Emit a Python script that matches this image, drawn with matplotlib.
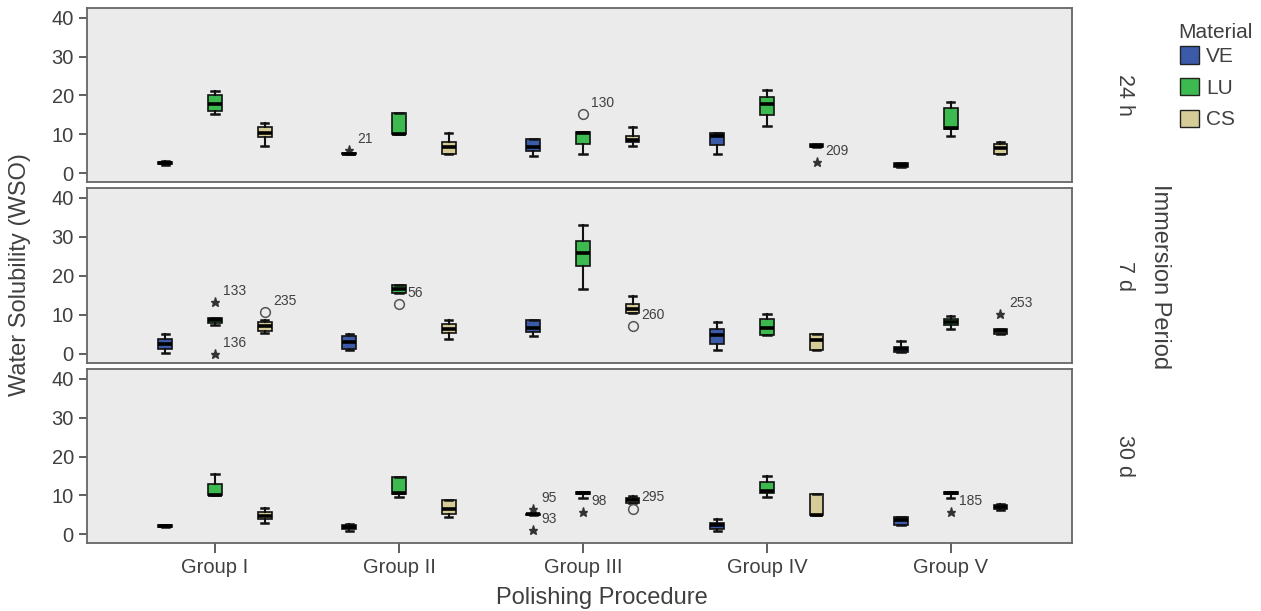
import numpy as np
import matplotlib.pyplot as plt
from matplotlib.patches import Patch

plt.rcParams['font.family'] = ['Liberation Sans', 'DejaVu Sans']

groups = ['Group I', 'Group II', 'Group III', 'Group IV', 'Group V']
materials = ['VE', 'LU', 'CS']
periods = ['24 h', '7 d', '30 d']
colors = ['#3b5ba9', '#3dba4f', '#d6cc98']

# each row: whisker low, q1, median, q3, whisker high (one row per group)
ve_24h = [[2.2, 2.3, 2.6, 2.9, 3.0], [4.8, 4.8, 5.0, 5.3, 5.3], [4.5, 5.6, 6.8, 8.7, 8.7],
          [5.0, 7.3, 9.5, 10.3, 10.3], [1.5, 1.5, 2.0, 2.7, 2.7]]
lu_24h = [[15.2, 16.1, 17.9, 20.1, 21.1], [10.0, 10.0, 10.1, 15.4, 15.4], [5.0, 7.5, 10.2, 10.5, 10.5],
          [12.1, 15.0, 17.8, 19.7, 21.4], [9.6, 11.3, 11.5, 16.7, 18.4]]
cs_24h = [[7.0, 9.2, 10.4, 11.8, 12.8], [5.0, 5.0, 6.8, 8.1, 10.3], [7.0, 7.9, 8.5, 9.6, 11.8],
          [6.6, 6.8, 7.1, 7.5, 7.5], [5.0, 5.0, 6.4, 7.5, 7.9]]

ve_7d = [[0.3, 1.4, 2.6, 3.9, 5.2], [0.9, 1.4, 3.0, 4.6, 5.2], [4.6, 5.6, 6.6, 8.6, 8.6],
         [0.9, 2.6, 4.9, 6.5, 8.3], [0.5, 0.5, 1.2, 1.8, 3.2]]
lu_7d = [[7.5, 8.0, 8.6, 9.2, 9.2], [15.7, 15.7, 16.7, 17.7, 17.7], [16.7, 22.5, 26.0, 29.0, 33.0],
         [4.9, 4.9, 6.6, 9.0, 10.3], [6.5, 7.5, 8.2, 8.9, 9.7]]
cs_7d = [[5.4, 6.0, 7.1, 8.2, 8.6], [3.9, 5.4, 6.5, 7.7, 8.6], [10.6, 10.6, 11.6, 12.9, 14.8],
         [0.9, 0.9, 3.5, 5.2, 5.2], [5.0, 5.0, 5.8, 6.3, 6.3]]

ve_30d = [[1.8, 1.8, 2.1, 2.5, 2.5], [0.9, 1.3, 1.8, 2.3, 2.7], [4.9, 4.9, 5.1, 5.3, 5.3],
          [0.9, 1.3, 2.3, 3.0, 3.8], [2.3, 2.5, 3.6, 4.4, 4.4]]
lu_30d = [[10.0, 10.0, 10.1, 13.0, 15.4], [9.5, 10.4, 10.7, 14.8, 14.8], [9.3, 10.3, 10.5, 10.8, 10.8],
          [9.7, 10.7, 11.0, 13.4, 14.9], [9.3, 10.3, 10.5, 10.8, 10.8]]
cs_30d = [[3.0, 3.8, 4.7, 5.7, 6.7], [4.4, 5.3, 6.4, 8.7, 8.7], [8.1, 8.1, 8.7, 9.3, 9.8],
          [4.9, 4.9, 5.0, 10.4, 10.4], [6.2, 6.4, 6.9, 7.4, 7.8]]

box_data = [[ve_24h, lu_24h, cs_24h], [ve_7d, lu_7d, cs_7d], [ve_30d, lu_30d, cs_30d]]

# outliers: (group index, material index, value, kind, case label)
out_24h = [(1, 0, 6.0, 'star', '21'), (2, 1, 15.2, 'circle', '130'), (3, 2, 2.8, 'star', '209')]
out_7d = [(0, 1, 13.3, 'star', '133'), (0, 1, 0.0, 'star', '136'), (0, 2, 10.7, 'circle', '235'),
          (1, 1, 12.7, 'circle', '56'), (2, 2, 7.1, 'circle', '260'), (4, 2, 10.3, 'star', '253')]
out_30d = [(2, 0, 6.4, 'star', '95'), (2, 0, 1.0, 'star', '93'), (2, 1, 5.7, 'star', '98'),
           (2, 2, 6.6, 'circle', '295'), (4, 1, 5.7, 'star', '185')]
outliers = [out_24h, out_7d, out_30d]

offsets = [-0.27, 0.0, 0.27]
text_col = '#404040'

fig = plt.figure(figsize=(12.61, 6.11), dpi=100)
axes_rects = [[0.069, 0.702, 0.781, 0.285],
              [0.069, 0.406, 0.781, 0.286],
              [0.069, 0.111, 0.781, 0.285]]

for p, rect in enumerate(axes_rects):
    ax = fig.add_axes(rect)
    ax.set_facecolor('#ebebeb')
    x = np.arange(len(groups))
    for m in range(3):
        stats = []
        for row in box_data[p][m]:
            stats.append(dict(whislo=row[0], q1=row[1], med=row[2], q3=row[3], whishi=row[4], fliers=[]))
        ax.bxp(stats, positions=x + offsets[m], widths=0.075, capwidths=0.04,
               patch_artist=True, showfliers=False, manage_ticks=False,
               boxprops=dict(facecolor=colors[m], edgecolor='#111111', linewidth=1.2),
               medianprops=dict(color='black', linewidth=2.6),
               whiskerprops=dict(color='#111111', linewidth=1.5),
               capprops=dict(color='#111111', linewidth=1.8))
    for g, m, val, kind, lab in outliers[p]:
        xp = g + offsets[m]
        if kind == 'star':
            ax.plot(xp, val, marker='*', color='#333333', markersize=6.5, linestyle='none')
        else:
            ax.plot(xp, val, marker='o', markerfacecolor='none', markeredgecolor='#555555',
                    markersize=7, markeredgewidth=1.1, linestyle='none')
        ax.annotate(lab, (xp, val), xytext=(6, 8), textcoords='offset points',
                    fontsize=10, color=text_col, ha='left', va='center')

    ax.set_xlim(-0.696, 4.658)
    ax.set_ylim(-2.3, 42.5)
    ax.set_yticks([0, 10, 20, 30, 40])
    ax.tick_params(axis='y', labelsize=14.5, colors='#444444', labelcolor=text_col, length=6, width=1.2)
    if p == 2:
        ax.set_xticks(x)
        ax.set_xticklabels(groups)
        ax.tick_params(axis='x', labelsize=14.5, colors='#444444', labelcolor=text_col, length=7, width=1.2)
    else:
        ax.set_xticks([])
    for s in ax.spines.values():
        s.set_color('#666666')
        s.set_linewidth(1.3)
    ax.text(1.053, 0.5, periods[p], transform=ax.transAxes, rotation=-90,
            fontsize=15.5, color=text_col, ha='center', va='center')

fig.text(0.016, 0.55, 'Water Solubility (WSO)', rotation=90, fontsize=17, color=text_col,
         ha='center', va='center')
fig.text(0.477, 0.022, 'Polishing Procedure', fontsize=17, color=text_col, ha='center', va='center')
fig.text(0.920, 0.547, 'Immersion Period', rotation=-90, fontsize=17, color=text_col,
         ha='center', va='center')

# legend title placed on its own so the rows sit closer under it
fig.text(0.964, 0.946, 'Material', fontsize=15, color=text_col, ha='center', va='center')
handles = [Patch(facecolor=c, edgecolor='#222222', linewidth=1.0) for c in colors]
leg = fig.legend(handles, materials, loc='upper left',
                 bbox_to_anchor=(0.929, 0.938), frameon=False, fontsize=15,
                 handlelength=0.9, handleheight=0.9,
                 handletextpad=0.35, labelspacing=0.57, borderaxespad=0.0)
for t in leg.get_texts():
    t.set_color(text_col)

fig.savefig('out.png', dpi=100)
